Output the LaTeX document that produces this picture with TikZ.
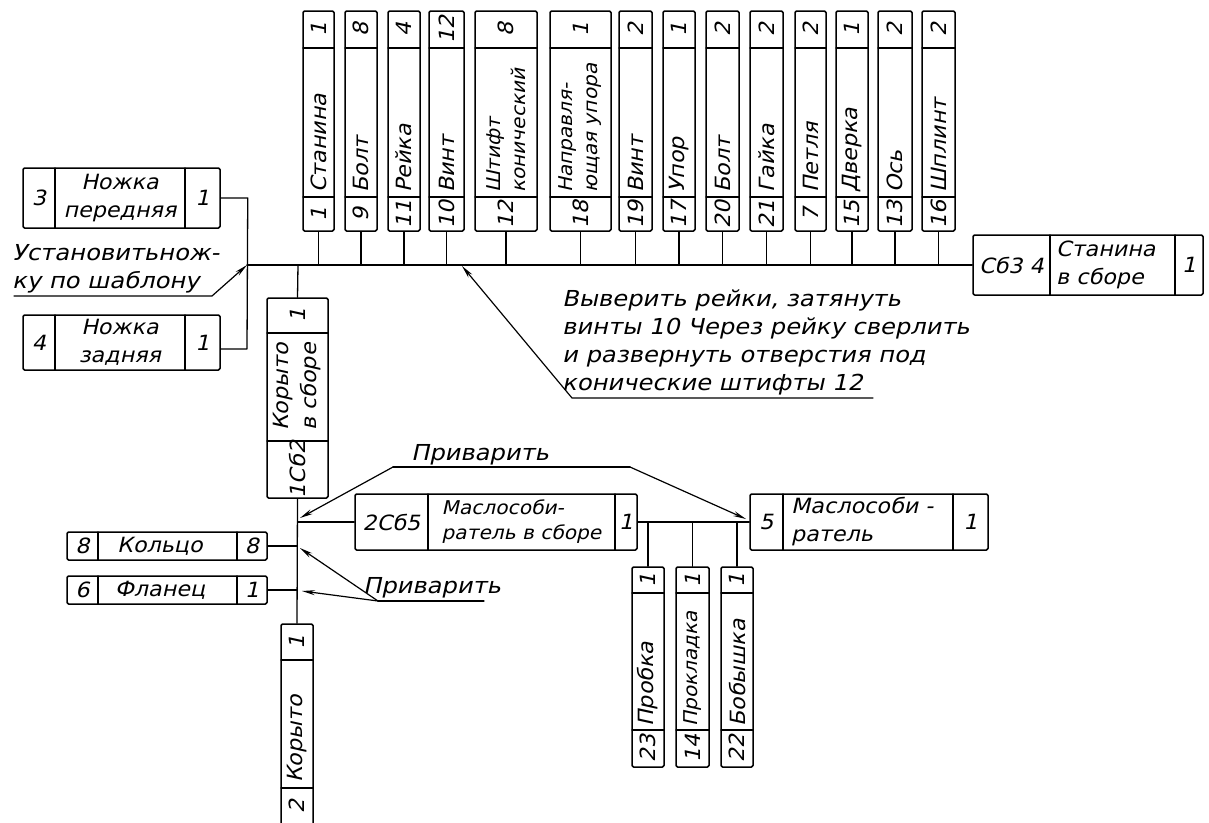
\documentclass[tikz,border=0pt]{standalone}
\usepackage{fontspec}
\newfontfamily\gost{DejaVu Sans}[FakeSlant=0.22, FakeStretch=1.06]
\newfontfamily\gostwide{DejaVu Sans}[FakeSlant=0.22, FakeStretch=1.1]
\usetikzlibrary{arrows.meta}
\begin{document}
\begin{tikzpicture}[x=1pt,y=-1pt,
  line cap=round, line join=round,
  txt/.style={font=\gost\fontsize{21}{28}\selectfont, inner sep=0pt},
  smalltxt/.style={font=\gost\fontsize{19}{25}\selectfont, inner sep=0pt},
  notetxt/.style={font=\gostwide\fontsize{22}{28}\selectfont, inner sep=0pt},
  part/.style={draw, line width=1.5pt, inner sep=0pt, rounded corners=1.5pt},
  cell/.style={line width=1.3pt},
  link/.style={line width=1.3pt},
  lead/.style={line width=1.2pt, -{Stealth[length=13pt,width=5pt]}},
]
\useasboundingbox (0,0) rectangle (1209,822);
\clip (0,0) rectangle (1209,822);

% ---------- named coordinates ----------
\coordinate (bus) at (247,265);
\coordinate (t0) at (298,265);
\coordinate (tb) at (462,266);
\coordinate (j4) at (247,349);

% ---------- top row of vertical parts ----------
\foreach \nm/\xl/\xr/\q/\t/\n/\f in {
  p1/303/334/1/Станина/1/txt,
  p9/345/377/8/Болт/9/txt,
  p11/388/420/4/Рейка/11/txt,
  p10/429/464/12/Винт/10/txt,
  p12/475/537/8/{Штифт\\конический}/12/smalltxt,
  p18/550/611/1/{Направля-\\ющая упора}/18/smalltxt,
  p19/619/652/2/Винт/19/txt,
  p17/663/695/1/Упор/17/txt,
  p20/706/739/2/Болт/20/txt,
  p21/750/783/2/Гайка/21/txt,
  p7/795/826/2/Петля/7/txt,
  p15/836/868/1/Дверка/15/txt,
  p13/878/912/2/Ось/13/txt,
  p16/922/955/2/Шплинт/16/txt}{
  \pgfmathsetmacro\w{\xr-\xl}
  \pgfmathsetmacro\xc{(\xl+\xr)/2}
  \node[part, minimum width=\w pt, minimum height=220pt] (\nm) at (\xc,121) {};
  \draw[cell] (\xl,48) -- (\xr,48) (\xl,197) -- (\xr,197);
  \node[txt, rotate=90] at (\xc,29.5) {\q};
  \node[txt, rotate=90] at (\xc,214) {\n};
  \node[\f, rotate=90, anchor=west, align=left] at (\xc,193) {\t};
  \draw[link] (\nm.south) -- (\nm.south |- bus);
}

% ---------- bottom right vertical parts ----------
\foreach \nm/\xl/\xr/\q/\t/\n/\f in {
  pb/632/664/1/Пробка/23/txt,
  pk/676/709/1/Прокладка/14/smalltxt,
  bb/721/753/1/Бобышка/22/txt}{
  \pgfmathsetmacro\w{\xr-\xl}
  \pgfmathsetmacro\xc{(\xl+\xr)/2}
  \node[part, minimum width=\w pt, minimum height=200pt] (\nm) at (\xc,667) {};
  \draw[cell] (\xl,593) -- (\xr,593) (\xl,730) -- (\xr,730);
  \node[txt, rotate=90] at (\xc,580) {\q};
  \node[txt, rotate=90] at (\xc,748.5) {\n};
  \node[\f, rotate=90, anchor=west] at (\xc,727) {\t};
}

% ---------- Корыто в сборе ----------
\node[part, minimum width=61pt, minimum height=200pt] (k1) at (297.5,398) {};
\draw[cell] (267,333) -- (328,333) (267,441) -- (328,441);
\node[txt, rotate=90] at (297.5,315.5) {1};
\node[txt, rotate=90, align=center] at (297.5,387) {Корыто\\в сборе};
\node[txt, rotate=90] at (297.5,469.5) {1Сб2};

% ---------- Корыто ----------
\node[part, minimum width=32pt, minimum height=236pt] (k0) at (297,742) {};
\draw[cell] (281,660) -- (313,660) (281,788) -- (313,788);
\node[txt, rotate=90] at (297,642) {1};
\node[txt, rotate=90, anchor=west] at (297,783) {Корыто};
\node[txt, rotate=90] at (297,806) {2};

% ---------- horizontal parts ----------
\node[part, minimum width=197pt, minimum height=60pt] (n3) at (121.5,198) {};
\draw[cell] (55,168) -- (55,228) (185,168) -- (185,228);
\node[txt] at (39,198) {3};
\node[txt, align=center] at (120,198) {Ножка\\передняя};
\node[txt] at (202.5,198) {1};

\node[part, minimum width=197pt, minimum height=55pt] (n4) at (121.5,342.5) {};
\draw[cell] (55,315) -- (55,370) (185,315) -- (185,370);
\node[txt] at (39,342.5) {4};
\node[txt, align=center] at (120,342.5) {Ножка\\задняя};
\node[txt] at (202.5,342.5) {1};

\node[part, minimum width=200pt, minimum height=28pt] (kol) at (167,546) {};
\draw[cell] (98,532) -- (98,560) (237,532) -- (237,560);
\node[txt] at (82.5,546) {8};
\node[txt] at (160,546) {Кольцо};
\node[txt] at (252,546) {8};

\node[part, minimum width=200pt, minimum height=28pt] (fl) at (167,590) {};
\draw[cell] (98,576) -- (98,604) (237,576) -- (237,604);
\node[txt] at (82.5,590) {6};
\node[txt] at (160,590) {Фланец};
\node[txt] at (252,590) {1};

\node[part, minimum width=282pt, minimum height=56pt] (msb) at (496,522) {};
\draw[cell] (428,494) -- (428,550) (615,494) -- (615,550);
\node[txt] at (391.5,522) {2Сб5};
\node[smalltxt, align=left] at (521.5,522) {Маслособи-\\ратель в сборе};
\node[txt] at (626,522) {1};

\node[part, minimum width=238pt, minimum height=56pt] (m5) at (869,522) {};
\draw[cell] (783,494) -- (783,550) (953,494) -- (953,550);
\node[txt] at (766.5,522) {5};
\node[txt, align=left, anchor=west] at (791,522) {Маслособи -\\ратель};
\node[txt] at (970.5,522) {1};

\node[part, minimum width=230pt, minimum height=60pt] (cb3) at (1088,265) {};
\draw[cell] (1050,235) -- (1050,295) (1175,235) -- (1175,295);
\node[txt] at (1011.5,265) {Сб3 4};
\node[txt, align=left, anchor=west] at (1056,265) {Станина\\в сборе};
\node[txt] at (1189,265) {1};

% ---------- connectors ----------
\draw[link] (bus) -- (cb3.west);
\draw[link] (n3.east) -- ++(27,0) -- (j4) -- (j4 -| n4.east);
\draw[link] (t0) -- (k1.north);
\draw[link] (k1.south) -- (k0.north);
\draw[link] (kol.east) -- (kol.east -| k1.south);
\draw[link] (fl.east) -- (fl.east -| k1.south);
\draw[link] (msb.west) -- (msb.west -| k1.south);
\draw[link] (msb.east) -- (m5.west);
\draw[link] (pb.north |- msb.east) -- (pb.north);
\draw[link] (pk.north |- msb.east) -- (pk.north);
\draw[link] (bb.north |- msb.east) -- (bb.north);

% ---------- notes ----------
\node[notetxt, align=left, anchor=north west] (ust) at (12,244) {Установитьнож-\\ку по шаблону};
\coordinate (u1) at (14,296);
\coordinate (u2) at (212,296);
\draw[lead] (u1) -- (u2) -- (bus);

\node[notetxt, align=left, anchor=north west] (note) at (562,290)
  {Выверить рейки, затянуть\\винты 10 Через рейку сверлить\\и развернуть отверстия под\\конические штифты 12};
\coordinate (v1) at (572,398);
\coordinate (v2) at (873,398);
\draw[lead] (v2) -- (v1) -- (tb);

\node[notetxt, anchor=base] (pv1) at (480,460) {Приварить};
\coordinate (w1) at (393,467);
\coordinate (w2) at (630,467);
\coordinate (a1) at (300,518);
\coordinate (a2) at (746,519);
\draw[link] (w1) -- (w2);
\draw[lead] (w1) -- (a1);
\draw[lead] (w2) -- (a2);

\node[notetxt, anchor=base] (pv2) at (432,593) {Приварить};
\coordinate (x1) at (378,601);
\coordinate (x2) at (484,601);
\coordinate (b1) at (300,548);
\coordinate (b2) at (302,591);
\draw[link] (x1) -- (x2);
\draw[lead] (x1) -- (b1);
\draw[lead] (x1) -- (b2);
\end{tikzpicture}
\end{document}
